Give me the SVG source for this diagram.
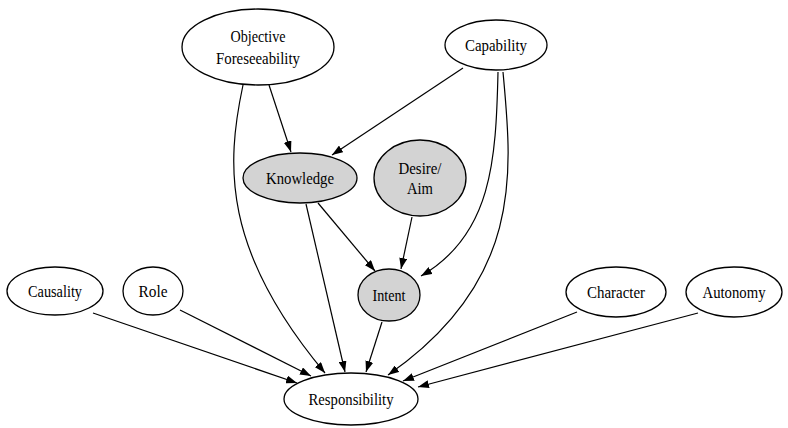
<svg xmlns="http://www.w3.org/2000/svg" width="788" height="428" viewBox="0 0 788 428">
<defs>
<style>
.n ellipse{stroke:#000;stroke-width:1.3;fill:#fff}
.g ellipse{fill:#d3d3d3}
.t text{font-family:"Liberation Serif",serif;font-size:17px;fill:#000;text-anchor:middle}
#edges path{fill:none;stroke:#000;stroke-width:1.2;marker-end:url(#ah)}
</style>
<marker id="ah" viewBox="0 0 11 8" refX="11" refY="4" markerWidth="11" markerHeight="8" markerUnits="userSpaceOnUse" orient="auto">
<path d="M0,0 L11,4 L0,8 z" fill="#000"/>
</marker>
</defs>
<rect width="788" height="428" fill="#fff"/>
<g id="edges">
<path d="M269,85 L291,152"/>
<path d="M243,85 C226,165 222,250 325,373"/>
<path d="M463,68 L332,155"/>
<path d="M498,72 C496,160 492,235 421,276"/>
<path d="M503,72 C512,170 525,280 388,375"/>
<path d="M318,203 L375,271"/>
<path d="M306,204 L345,372"/>
<path d="M412,217 L401,269"/>
<path d="M382,322 L366,372"/>
<path d="M93,313 L297,383"/>
<path d="M180,310 L311,376"/>
<path d="M577,312 L403,381"/>
<path d="M698,313 L418,387"/>
</g>
<g class="t" font-family="Liberation Serif, serif">
<g id="objective-foreseeability" class="n"><ellipse cx="258" cy="47" rx="76" ry="38"/><text x="258" y="41.5" textLength="55" lengthAdjust="spacingAndGlyphs">Objective</text><text x="258" y="63.5" textLength="84" lengthAdjust="spacingAndGlyphs">Foreseeability</text></g>
<g id="capability" class="n"><ellipse cx="496" cy="45" rx="51" ry="25"/><text x="496" y="50.5" textLength="62" lengthAdjust="spacingAndGlyphs">Capability</text></g>
<g id="knowledge" class="n g"><ellipse cx="300" cy="178" rx="57" ry="25"/><text x="300" y="183.5" textLength="68" lengthAdjust="spacingAndGlyphs">Knowledge</text></g>
<g id="desire-aim" class="n g"><ellipse cx="420" cy="178" rx="46" ry="38"/><text x="420" y="173.5" textLength="43" lengthAdjust="spacingAndGlyphs">Desire/</text><text x="420" y="193.5" textLength="26" lengthAdjust="spacingAndGlyphs">Aim</text></g>
<g id="intent" class="n g"><ellipse cx="389" cy="295" rx="31" ry="26"/><text x="389" y="300.5" textLength="33" lengthAdjust="spacingAndGlyphs">Intent</text></g>
<g id="causality" class="n"><ellipse cx="55" cy="291" rx="48" ry="24"/><text x="55" y="296.5" textLength="54" lengthAdjust="spacingAndGlyphs">Causality</text></g>
<g id="role" class="n"><ellipse cx="153" cy="291" rx="30" ry="24"/><text x="153" y="296.5" textLength="29" lengthAdjust="spacingAndGlyphs">Role</text></g>
<g id="character" class="n"><ellipse cx="616" cy="292" rx="50" ry="25"/><text x="616" y="297.5" textLength="58" lengthAdjust="spacingAndGlyphs">Character</text></g>
<g id="autonomy" class="n"><ellipse cx="734" cy="292" rx="48" ry="25"/><text x="734" y="297.5" textLength="63" lengthAdjust="spacingAndGlyphs">Autonomy</text></g>
<g id="responsibility" class="n"><ellipse cx="351" cy="399" rx="67" ry="26"/><text x="351" y="405" textLength="85" lengthAdjust="spacingAndGlyphs">Responsibility</text></g>
</g>
</svg>
